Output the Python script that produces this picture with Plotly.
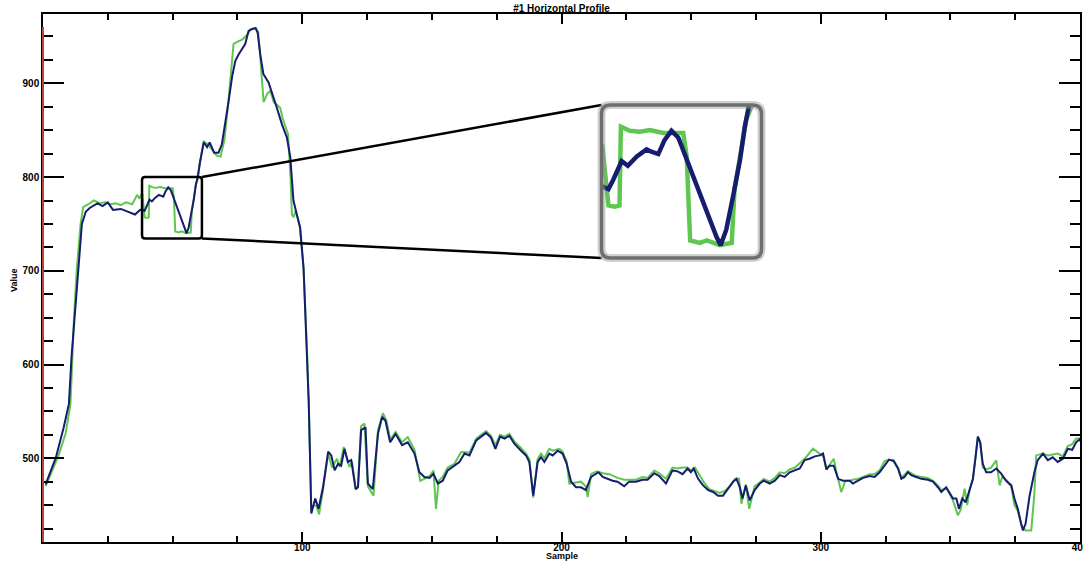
import plotly.graph_objects as go

W, H = 1083, 561
ML, MR, MT, MB = 43, 3, 14, 19

X_RANGE = [0, 400]
Y_RANGE = [410.6, 974]
X_TICKS = [100, 200, 300, 400]
Y_TICKS = [500, 600, 700, 800, 900]

# region that is magnified in the inset (data units)
ZOOM_X = [38.2, 61.3]
ZOOM_Y = [734.5, 800]

TITLE = "#1 Horizontal Profile"
X_TITLE = "Sample"
Y_TITLE = "Value"

blue_x = [1, 3, 5, 8, 10, 11, 12.5, 14, 15, 16.5, 18, 21, 23, 25, 27, 30, 32, 35.5, 37.5, 38.4,
          39.2, 39.9, 41.1, 42, 43.3, 44.7, 45.4, 46.4, 47.3, 48.3, 49.3, 50.2, 51.4, 52.6, 53.8, 54.8, 55.4, 56.2, 57.2, 58.2,
          58.9, 59.6, 60.5, 62, 63.3, 64.3, 66, 67.7, 69, 70.3, 71.6, 73, 74.2,
          75.5, 76.8, 78, 79.3, 80.6, 82, 82.8, 83.8, 85, 87, 88.3, 90.2, 92.2, 94.1, 95.4, 96.6, 97.9, 99.2, 100.5, 101.8,
          102.5, 103.5, 105, 106.3, 108, 110, 111.2, 112.5, 113.8, 115, 116.3, 117.6, 118.9, 120.6, 121.5, 122.7, 124.4, 125.3, 127.2, 129.2,
          130.8, 132.1, 133.9, 136, 138.5, 140.7, 143.3, 145.2, 147.1, 149.1, 150.6, 152.3, 154.2, 156.1, 158.7, 160.6, 162.6, 164.5, 167.1, 169,
          170.9, 172.8, 174.5, 176.3, 178, 179.9, 181.8, 184.4, 186.3, 187.6, 189.1, 190.8, 192.1, 193.4, 195.3, 196.6, 198.5, 200.4, 202, 203.7,
          205.6, 207.5, 209.4, 211.4, 212.7, 214.3, 215.9, 217.8, 219.7, 221.6, 224.2, 226.1, 228.7, 231.3, 233.2, 235.8, 237.7, 240.3, 242.8, 244.8,
          246.7, 248.6, 249.9, 251, 252.7, 254.6, 256.6, 258.5, 260.4, 262.3, 264.3, 266.2, 267.5, 268.8, 269.8, 271.1, 272.6, 274.5, 276.5, 278,
          280.3, 282.3, 284.2, 286.1, 288, 290, 291.9, 293.8, 295.7, 297.7, 299.6, 300.9, 302.2, 303.4, 305, 306.7, 308.6, 311.2, 312.4, 314.4,
          316.3, 318.9, 320.8, 322.7, 324.6, 326.3, 328.1, 329.8, 331.1, 332.3, 333.6, 334.9, 336.8, 338.8, 341.3, 343.3, 345.2, 346.5, 348.4, 349.7,
          351, 352.3, 353.3, 354.6, 355.9, 357.4, 358.7, 359.7, 360.6, 361.5, 362.5, 363.8, 365.7, 367.7, 369.6, 371.5, 373.5, 374.7, 376, 377.3,
          378, 379, 380.5, 382.4, 383.7, 385.7, 387.6, 389.5, 391.4, 393.4, 395.3, 397, 398.5, 399.8, 400]
blue_y = [472, 487, 501, 533, 558, 608, 661, 718, 750, 763, 767, 772, 769, 773, 765, 766, 764, 760, 765, 765,
          764, 768, 776, 774, 778, 781, 780, 779, 785, 789, 786, 779, 769, 761, 751.5, 743.6, 740, 746.5, 761, 776.5,
          791, 799, 815, 837, 832, 837, 826, 826, 835, 856, 881, 908, 924,
          931, 937, 942, 956, 958, 959, 954, 931, 910, 901, 889, 874, 856, 842, 821, 775, 760, 746, 703, 618,
          560, 441, 457, 446, 469, 507, 503, 487, 494, 492, 510, 496, 498, 467, 469, 530, 533, 473, 467, 526,
          544, 540, 517, 526, 514, 517, 505, 485, 480, 479, 483.5, 473, 476, 487, 492, 496, 505, 503, 519, 523,
          527, 522, 510, 523, 521, 524, 515.5, 508, 503, 496, 460, 496, 501, 496, 505, 503, 508, 505, 494, 475,
          469, 469, 466, 480, 482, 485, 480, 478, 476, 475, 470, 475, 475, 477, 477, 484, 481, 473, 487, 486,
          483, 489, 485, 489, 478, 471, 466, 464, 460, 460, 467.5, 475, 478, 469, 457, 471, 455, 466, 473, 476,
          473, 476, 482, 480, 485, 487, 489, 498, 499.5, 502, 503, 505, 488, 492, 492, 478, 476, 476, 473, 476,
          479, 481, 480, 485, 492, 498.5, 497, 489, 478, 480, 485, 482, 480, 478, 477, 475, 469, 464, 469, 463,
          457, 457, 446, 457, 453, 466, 478, 501, 523, 517, 494, 485, 485, 489, 483.5, 476, 471, 457, 446, 430,
          423, 430, 459, 485, 498, 505, 498, 501, 496, 499.5, 510, 509, 517, 520, 518]

green_x = [1, 4, 6, 8.7, 10.6, 11.9, 13, 14.5, 15.5, 17.5, 19.6, 22, 24, 26, 28, 30, 32, 34.4, 36.3, 37.2,
           38.3, 39.2, 40.1, 40.8, 41, 42.3, 43.7, 45.2, 47.1, 48.5, 50, 50.5, 51, 52.4, 53.4, 55.3, 57, 57.4, 58.2, 59.1,
           59.8, 60.5, 62, 63.5, 65, 67, 68.5, 70,
           71.5, 72.9, 73.5, 75.5, 77, 78.5, 80, 82, 83, 83.8, 85.1, 86.5, 87.7, 89, 91.5, 92.5, 93.4, 94.5, 95.5, 96,
           96.6, 97.5, 99, 100.5, 101.8, 102.5, 103.5, 104.5, 105.5, 106.5, 108, 110, 111.5, 113.4, 114.4, 116, 118.2, 119.2, 120.6, 121.5,
           122.7, 124, 125.3, 127.5, 129.2, 131.1, 132.5, 133.9, 136, 138.5, 140.7, 143.3, 145.5, 147.1, 149.5, 150.6, 151.6, 152.6, 154.2, 156.1,
           158.7, 161.3, 164.5, 167.1, 169, 170.9, 172.8, 174.5, 176.3, 178, 179.9, 181.8, 184.4, 186.3, 187.6, 189.1, 190.8, 192.1, 193.4, 195.3,
           196.6, 199.2, 200.4, 202, 203, 205.6, 207.5, 209.4, 210.1, 211.4, 213.5, 216, 218.5, 221.6, 224.2, 226.1, 228.7, 231.3, 233.2, 235.8,
           237.7, 240.3, 242.8, 244.8, 246.7, 248.6, 250, 251.5, 253, 255, 257, 259, 261, 263, 265, 267, 268.5, 269.4, 271.1, 272.4,
           274.5, 276.5, 278, 280.3, 282.3, 284.2, 286.1, 288, 290, 292, 294, 297, 299.6, 301, 302.2, 304.1, 305, 306, 307.9, 309.5,
           311.2, 312.4, 314.4, 316.3, 318.9, 320.8, 322.7, 324.6, 326.3, 328.1, 329.8, 331.1, 333.6, 336.8, 338.8, 341.3, 343.3, 345.2, 346.5, 348.4,
           349.7, 351, 352.9, 354, 355.5, 356.5, 357.4, 358.7, 359.7, 360.6, 361.5, 362.5, 363.8, 365.7, 367.7, 369, 370, 371.5, 373.5, 374.7,
           376, 377.5, 379, 381.2, 382.4, 383.1, 385.7, 387.6, 389.5, 391.4, 393.4, 395.3, 397, 398.5, 400]
green_y = [470, 490, 503, 526, 558, 647, 700, 750, 768, 771, 775, 772, 773, 771, 772, 770, 773, 771, 781, 777,
           783, 757, 756.5, 757, 790.7, 789, 788.6, 789.3, 788, 788, 788, 778, 742, 741, 742, 740, 741, 763.6, 778, 793.6,
           799, 815, 838, 835, 830, 823, 822, 840,
           880, 928, 942, 945, 947, 951, 957, 959, 955, 928, 880, 889, 892, 880, 874, 862, 855, 846, 800, 760,
           757, 764, 748, 703, 618, 560, 445, 450, 449, 440, 466, 505, 490, 499.5, 490.6, 512, 490.6, 496, 467, 470,
           534, 537, 470, 460, 530, 548, 540, 520, 528, 517, 522.6, 509, 476, 478, 482, 487, 446, 476, 480, 490,
           494, 506.6, 506, 521, 525, 529, 524, 514, 525, 523, 526, 518, 511, 505, 499, 458, 499, 505, 500, 510,
           508, 510, 507, 497, 473, 474.6, 475, 470, 458.6, 483, 486, 484, 483, 479, 477, 477, 477, 480, 479, 487,
           484, 478, 490, 489, 490, 490, 487, 490, 483, 474, 467, 465, 463, 465, 470, 478, 478, 451.5, 472, 446,
           470, 474, 478, 475, 479, 485, 484, 488, 490, 495, 500, 510.2, 505, 502, 488, 496, 499.5, 486, 463.9, 476,
           476, 477, 478, 480, 483, 483, 487, 497, 498, 498, 490, 479, 486, 481, 480, 479, 476, 471, 466, 468,
           462, 455, 439, 445, 467.5, 450, 466, 478, 501, 523, 517, 490, 488, 490, 497.7, 471, 480, 477, 470, 450,
           444, 428, 423, 423, 462, 503, 505, 503, 504, 505, 502, 513, 515, 521, 521]

BLUE = "rgb(22,28,112)"
GREEN = "rgb(95,198,82)"
FONT = "Liberation Sans"

pw = W - ML - MR
ph = H - MT - MB


def px_to_paper(px, py):
    return (px - ML) / pw, (H - MB - py) / ph


def data_to_paper(x, y):
    return ((x - X_RANGE[0]) / (X_RANGE[1] - X_RANGE[0]),
            (y - Y_RANGE[0]) / (Y_RANGE[1] - Y_RANGE[0]))


# inset placement (pixels)
INSET_L, INSET_R, INSET_T, INSET_B = 601.5, 761.5, 105, 258
ix0, iy0 = px_to_paper(INSET_L, INSET_B)
ix1, iy1 = px_to_paper(INSET_R, INSET_T)

fig = go.Figure()
fig.add_trace(go.Scatter(x=green_x, y=green_y, mode="lines",
                         line=dict(color=GREEN, width=2), hoverinfo="skip"))
fig.add_trace(go.Scatter(x=blue_x, y=blue_y, mode="lines",
                         line=dict(color=BLUE, width=2), hoverinfo="skip"))
fig.add_trace(go.Scatter(x=green_x, y=green_y, mode="lines", xaxis="x2", yaxis="y2",
                         line=dict(color=GREEN, width=4.5), hoverinfo="skip"))
fig.add_trace(go.Scatter(x=blue_x, y=blue_y, mode="lines", xaxis="x2", yaxis="y2",
                         line=dict(color=BLUE, width=4.5), hoverinfo="skip"))

tickfont = dict(family=FONT, size=10, color="black", weight="bold")

fig.update_layout(
    width=W, height=H,
    margin=dict(l=ML, r=MR, t=MT, b=MB, autoexpand=False),
    paper_bgcolor="white", plot_bgcolor="white",
    showlegend=False,
    title=dict(text=TITLE, x=0.5, xref="paper", xanchor="center",
               y=1 - 8 / H, yref="container", yanchor="middle",
               font=dict(family=FONT, size=10, color="black", weight="bold")),
    xaxis=dict(range=X_RANGE, tickmode="array", tickvals=X_TICKS,
               ticks="inside", ticklen=10, tickwidth=1.5, tickcolor="black",
               minor=dict(tick0=0, dtick=25, ticks="inside", ticklen=6, tickwidth=1.5, tickcolor="black"),
               showline=True, linecolor="black", linewidth=1.5, mirror="ticks",
               showgrid=False, zeroline=False, tickfont=tickfont, automargin=False,
               ticklabeloverflow="allow", ticklabelstandoff=-5),
    yaxis=dict(range=Y_RANGE, tickmode="array", tickvals=Y_TICKS,
               ticks="inside", ticklen=21, tickwidth=1.5, tickcolor="black",
               minor=dict(tick0=0, dtick=25, ticks="inside", ticklen=10, tickwidth=1.5, tickcolor="black"),
               showline=True, linecolor="black", linewidth=1.5, mirror="ticks",
               showgrid=False, zeroline=False, tickfont=tickfont, automargin=False),
    xaxis2=dict(domain=[ix0, ix1], range=ZOOM_X, anchor="y2", visible=False, showgrid=False, zeroline=False),
    yaxis2=dict(domain=[iy0, iy1], range=ZOOM_Y, anchor="x2", visible=False, showgrid=False, zeroline=False),
)

# red left spine segment
top_red = px_to_paper(ML, 27)[1]
shapes = [dict(type="line", xref="paper", yref="paper", x0=0, x1=0, y0=0, y1=top_red,
               line=dict(color="rgb(176,72,60)", width=2))]


def rounded_rect(x0, y0, x1, y1, rpx):
    rx = rpx / pw
    ry = rpx / ph
    return (f"M {x0 + rx},{y0} L {x1 - rx},{y0} Q {x1},{y0} {x1},{y0 + ry} "
            f"L {x1},{y1 - ry} Q {x1},{y1} {x1 - rx},{y1} "
            f"L {x0 + rx},{y1} Q {x0},{y1} {x0},{y1 - ry} "
            f"L {x0},{y0 + ry} Q {x0},{y0} {x0 + rx},{y0} Z")


# small zoom box
bx0, by0 = data_to_paper(ZOOM_X[0], ZOOM_Y[0])
bx1, by1 = data_to_paper(ZOOM_X[1], ZOOM_Y[1])
shapes.append(dict(type="path", xref="paper", yref="paper", path=rounded_rect(bx0, by0, bx1, by1, 3),
                   line=dict(color="black", width=2.5)))
# connectors
shapes.append(dict(type="line", xref="paper", yref="paper", x0=bx1, y0=by1, x1=ix0, y1=iy1,
                   line=dict(color="black", width=2.5)))
shapes.append(dict(type="line", xref="paper", yref="paper", x0=bx1, y0=by0, x1=ix0, y1=iy0,
                   line=dict(color="black", width=2.5)))
# inset frame with soft shadow
shapes.append(dict(type="path", xref="paper", yref="paper", path=rounded_rect(ix0, iy0, ix1, iy1, 9),
                   line=dict(color="rgba(150,150,150,0.45)", width=8)))
shapes.append(dict(type="path", xref="paper", yref="paper", path=rounded_rect(ix0, iy0, ix1, iy1, 9),
                   line=dict(color="rgb(110,110,110)", width=3.5)))
fig.update_layout(shapes=shapes)

vx, vy = px_to_paper(14, 280)
sx, sy = px_to_paper(562, 555.5)
fig.add_annotation(text=Y_TITLE, xref="paper", yref="paper", x=vx, y=vy, textangle=-90,
                   showarrow=False, xanchor="center", yanchor="middle",
                   font=dict(family=FONT, size=9, color="black", weight="bold"))
fig.add_annotation(text=X_TITLE, xref="paper", yref="paper", x=sx, y=sy,
                   showarrow=False, xanchor="center", yanchor="middle",
                   font=dict(family=FONT, size=9, color="black", weight="bold"))

fig.write_html("out.html")
